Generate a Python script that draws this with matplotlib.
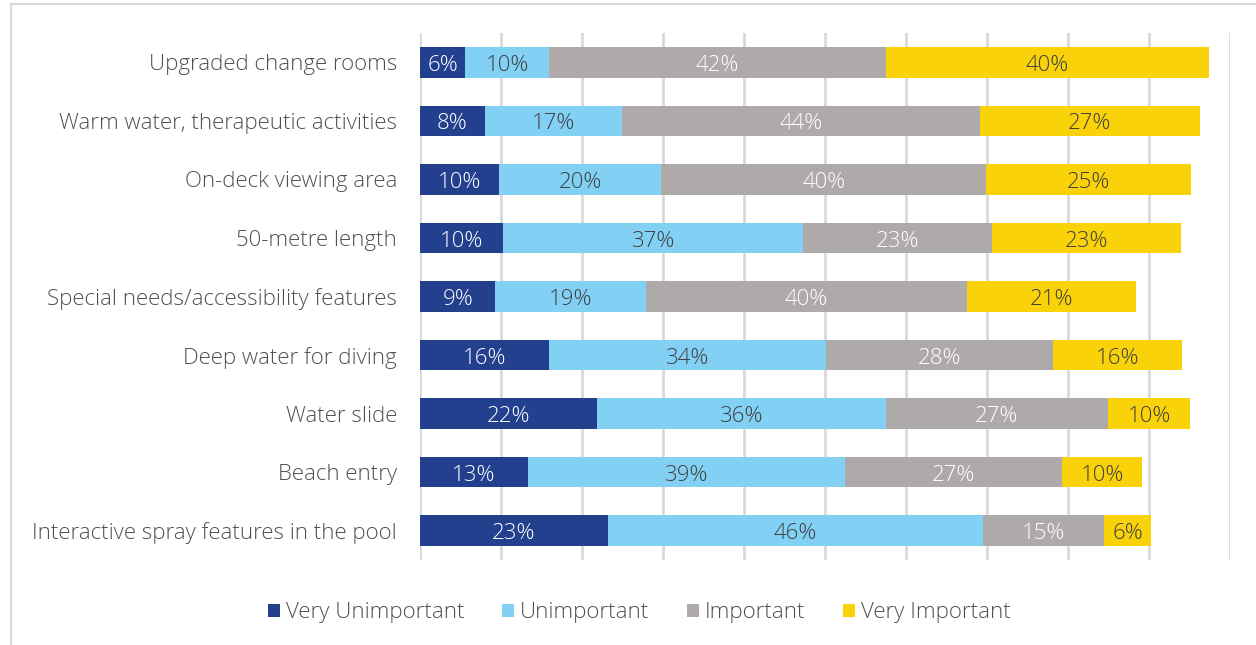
# Importamos NumPy para acumular los segmentos de cada barra.
import numpy as np

# Importamos Matplotlib para dibujar el grafico final.
import matplotlib.pyplot as plt
from matplotlib.lines import Line2D
from matplotlib.patches import Patch

# Categorias del eje vertical (de arriba hacia abajo).
categorias = [
    "Upgraded change rooms",
    "Warm water, therapeutic activities",
    "On-deck viewing area",
    "50-metre length",
    "Special needs/accessibility features",
    "Deep water for diving",
    "Water slide",
    "Beach entry",
    "Interactive spray features in the pool",
]

muy_poco_importante = [5.6, 8.0, 9.7, 10.3, 9.3, 15.9, 21.9, 13.3, 23.2]
poco_importante = [10.3, 16.9, 20.1, 37.0, 18.6, 34.2, 35.6, 39.2, 46.3]
importante = [41.6, 44.2, 40.1, 23.3, 39.6, 28.0, 27.4, 26.8, 15.0]
muy_importante = [39.9, 27.2, 25.3, 23.4, 20.9, 16.0, 10.2, 9.8, 5.7]

# Nombres de las series para la leyenda.
series = ["Very Unimportant", "Unimportant", "Important", "Very Important"]

# Colores de cada serie y del texto dentro de las barras.
colores = ["#23408e", "#83d0f5", "#aeaaa9", "#fad20a"]
colores_texto = ["white", "#404040", "white", "#404040"]

# Fuente general del grafico.
plt.rcParams["font.family"] = ["Open Sans", "DejaVu Sans"]
plt.rcParams["font.weight"] = "light"
fuente = 16

# Creamos la figura con el tamano exacto en pixeles.
fig = plt.figure(figsize=(12.56, 6.45), dpi=100)
ax = fig.add_axes([0.3344, 0.1318, 0.6449, 0.817])

# Dibujamos cada serie apilada sobre la anterior.
posiciones = np.arange(len(categorias))
izquierda = np.zeros(len(categorias))
valores_series = [muy_poco_importante, poco_importante, importante, muy_importante]

for valores, color, color_texto in zip(valores_series, colores, colores_texto):
    valores = np.array(valores)
    barras = ax.barh(posiciones, valores, left=izquierda, height=0.52,
                     color=color, zorder=3)
    # Escribimos el porcentaje redondeado en el centro de cada segmento.
    etiquetas = [f"{round(v)}%" for v in valores]
    textos = ax.bar_label(barras, labels=etiquetas, label_type="center",
                          color=color_texto, fontsize=fuente, zorder=4)
    # Bajamos un poco los textos para centrarlos como en el original.
    for t in textos:
        t.xyann = (0, -2.2)
    izquierda = izquierda + valores

# Ejes, limites y lineas de grilla verticales.
ax.set_xlim(0, 100)
ax.set_ylim(len(categorias) - 0.5, -0.5)
ax.set_xticks(np.arange(0, 101, 10))
ax.set_xticklabels([])
ax.set_yticks(posiciones)
ax.set_yticklabels(categorias, fontsize=fuente, color="#505050")
ax.tick_params(length=0, pad=16.5)
ax.grid(axis="x", color="#d9d9d9", linewidth=2, zorder=0)
for lado in ax.spines.values():
    lado.set_visible(False)

# Leyenda centrada debajo del grafico.
manijas = [Patch(facecolor=c, edgecolor="none") for c in colores]
fig.legend(manijas, series, loc="center", bbox_to_anchor=(0.509, 0.05),
           ncol=4, frameon=False, fontsize=fuente, handlelength=0.55,
           handleheight=0.55, handletextpad=0.25, columnspacing=1.7,
           labelcolor="#505050")

# Marco gris claro que rodea la figura.
fig.add_artist(Line2D([11 / 1256, 11 / 1256], [0, 1 - 4 / 645],
                      transform=fig.transFigure, color="#d9d9d9", linewidth=1.5))
fig.add_artist(Line2D([11 / 1256, 1], [1 - 4 / 645, 1 - 4 / 645],
                      transform=fig.transFigure, color="#d9d9d9", linewidth=1.5))

fig.savefig("out.png", dpi=100)
